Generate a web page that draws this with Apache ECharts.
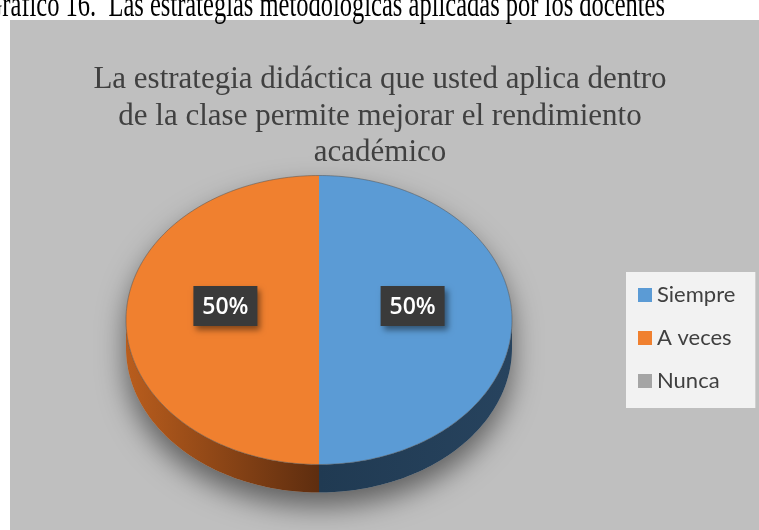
<!DOCTYPE html>
<html><head><meta charset="utf-8">
<script src="https://cdn.jsdelivr.net/npm/echarts@6/dist/echarts.min.js"></script>
<style>html,body{margin:0;padding:0;background:#fff;}#c{width:759px;height:530px;}</style>
</head><body><div id="c"></div>
<script>
const categories = ['Siempre', 'A veces', 'Nunca'];
const values = [50, 50, 0];
const colors = ['#5B9BD5', '#F0802F', '#A5A5A5'];
const sideEdge = ['#27435E', '#B95D1D', '#6E6E6E'];
const sideCenter = ['#203A52', '#5E2D0F', '#505050'];
const chartTitle = 'La estrategia didáctica que usted aplica dentro\nde la clase permite mejorar el rendimiento\nacadémico';
const headerText = 'Gráfico 16.  Las estrategias metodológicas aplicadas por los docentes';

const total = values.reduce((a, b) => a + b, 0);
const CX = 319, CY = 320, RX = 193, RY = 144.5, DEPTH = 28;
function pt(t, dy) { return [CX + RX * Math.sin(t), CY - RY * Math.cos(t) + (dy || 0)]; }
function arc(a1, a2, dy) {
  const n = Math.max(2, Math.ceil(Math.abs(a2 - a1) / 0.02));
  const out = [];
  for (let i = 0; i <= n; i++) out.push(pt(a1 + (a2 - a1) * i / n, dy));
  return out;
}

function sliceRender(k) {
  return function (params, api) {
    const v = api.value(0);
    if (!v) return { type: 'group', children: [] };
    const before = values.slice(0, k).reduce((a, b) => a + b, 0);
    const a1 = before / total * 2 * Math.PI, a2 = (before + v) / total * 2 * Math.PI;
    const mid = (a1 + a2) / 2;
    const children = [];
    const b1 = Math.max(a1, Math.PI / 2), b2 = Math.min(a2, 3 * Math.PI / 2);
    if (b2 > b1) {
      const left = mid > Math.PI;
      const stops = left
        ? [{ offset: 0, color: sideEdge[k] }, { offset: 0.5, color: sideCenter[k] }, { offset: 1, color: sideCenter[k] }]
        : [{ offset: 0, color: sideCenter[k] }, { offset: 0.5, color: sideCenter[k] }, { offset: 1, color: sideEdge[k] }];
      children.push({
        type: 'polygon',
        shape: { points: arc(b1, b2, 0).concat(arc(b2, b1, DEPTH)) },
        style: { fill: new echarts.graphic.LinearGradient(CX - RX, 0, CX + RX, 0, stops, true) }
      });
    }
    children.push({
      type: 'polygon',
      shape: { points: [[CX, CY]].concat(arc(a1, a2, 0)) },
      style: { fill: colors[k] }
    });
    children.push({
      type: 'polyline',
      shape: { points: arc(a1, a2, 0) },
      style: { stroke: 'rgba(80,80,80,0.5)', lineWidth: 1, fill: null }
    });
    const p = [CX + 0.485 * RX * Math.sin(mid), CY - 0.485 * RY * Math.cos(mid) - 14];
    children.push({
      type: 'rect',
      shape: { x: p[0] - 32, y: p[1] - 20, width: 64, height: 40 },
      style: { fill: '#3A3A3A', shadowBlur: 6, shadowOffsetX: 3, shadowOffsetY: 4, shadowColor: 'rgba(0,0,0,0.45)' }
    });
    children.push({
      type: 'text',
      x: p[0], y: p[1] + 1,
      style: {
        text: Math.round(v / total * 100) + '%',
        fill: '#FFFFFF', font: '600 23px "Open Sans"',
        align: 'center', verticalAlign: 'middle'
      }
    });
    return { type: 'group', children: children };
  };
}

function shadowRender(params, api) {
  const pts = arc(-Math.PI / 2, Math.PI / 2, 0).concat(arc(Math.PI / 2, 3 * Math.PI / 2, DEPTH));
  return {
    type: 'polygon',
    shape: { points: pts },
    style: { fill: '#B5B5B5', shadowBlur: 28, shadowOffsetY: 14, shadowColor: 'rgba(0,0,0,0.5)' }
  };
}

const series = [{
  type: 'custom', name: '__shadow', coordinateSystem: 'none', silent: true, z: 1,
  data: [[total]], renderItem: shadowRender
}];
categories.forEach((c, k) => {
  series.push({
    type: 'custom', name: c, coordinateSystem: 'none', z: 2,
    itemStyle: { color: colors[k] },
    data: [[values[k]]],
    renderItem: sliceRender(k)
  });
});

const chart = echarts.init(document.getElementById('c'), null, { renderer: 'canvas' });
chart.setOption({
  animation: false,
  backgroundColor: '#FFFFFF',
  title: {
    text: chartTitle,
    left: 375, top: 57, textAlign: 'center',
    textStyle: { fontFamily: 'Liberation Serif', fontSize: 31, fontWeight: 'normal', color: '#404040', lineHeight: 36.5 }
  },
  legend: {
    data: categories,
    orient: 'vertical',
    left: 626, top: 272,
    icon: 'rect', itemWidth: 14, itemHeight: 14, itemGap: 21, itemTextGap: 7,
    selectedMode: false,
    backgroundColor: '#F2F2F2',
    padding: [12, 20, 16, 12],
    textStyle: { fontFamily: 'Lato', fontSize: 22, color: '#404040' }
  },
  graphic: [
    { type: 'rect', z: -10, shape: { x: 10, y: 20, width: 749, height: 510 }, style: { fill: '#BFBFBF' } },
    { type: 'text', z: 100, x: 665, y: 6, scaleY: 1.5, style: { text: headerText, font: '24.5px "Liberation Serif"', fill: '#000000', align: 'right', verticalAlign: 'middle' } }
  ],
  series: series
});
</script>
</body></html>
